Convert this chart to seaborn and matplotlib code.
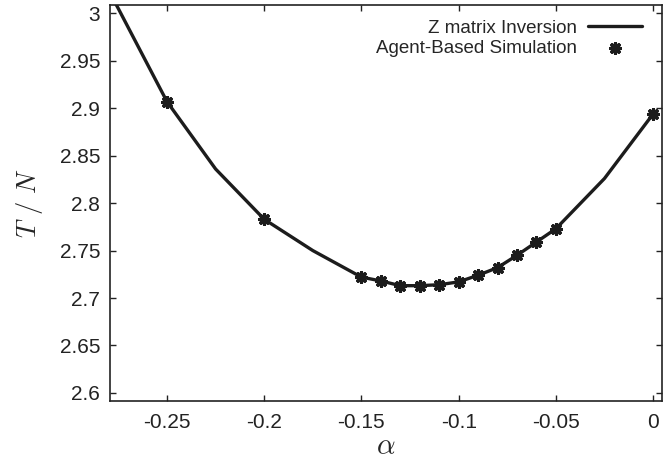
import matplotlib
matplotlib.use("Agg")
import matplotlib.pyplot as plt
import seaborn as sns
import pandas as pd

# Z matrix inversion (solid line)
alpha_line = [-0.30, -0.275, -0.25, -0.225, -0.20, -0.175, -0.15, -0.14, -0.13, -0.12,
              -0.11, -0.10, -0.09, -0.08, -0.07, -0.06, -0.05, -0.025, 0.0]
tn_line = [3.10, 3.005, 2.907, 2.836, 2.783, 2.750, 2.722, 2.718, 2.713, 2.713,
           2.714, 2.717, 2.724, 2.732, 2.745, 2.759, 2.773, 2.826, 2.894]

# Agent-based simulation (markers)
alpha_sim = [-0.25, -0.20, -0.15, -0.14, -0.13, -0.12, -0.11, -0.10, -0.09,
             -0.08, -0.07, -0.06, -0.05, 0.0]
tn_sim = [2.907, 2.783, 2.722, 2.718, 2.713, 2.713, 2.714, 2.717, 2.724,
          2.732, 2.745, 2.759, 2.773, 2.894]

xticks = [-0.25, -0.2, -0.15, -0.1, -0.05, 0]
xtick_labels = ["-0.25", "-0.2", "-0.15", "-0.1", "-0.05", "0"]
yticks = [2.6, 2.65, 2.7, 2.75, 2.8, 2.85, 2.9, 2.95, 3.0]
ytick_labels = ["2.6", "2.65", "2.7", "2.75", "2.8", "2.85", "2.9", "2.95", "3"]

sns.set_style("ticks")
plt.rcParams["font.family"] = ["Liberation Sans", "DejaVu Sans"]
plt.rcParams["mathtext.fontset"] = "cm"

df_line = pd.DataFrame({"alpha": alpha_line, "tn": tn_line})
df_sim = pd.DataFrame({"alpha": alpha_sim, "tn": tn_sim})

fig = plt.figure(figsize=(6.71, 4.70), dpi=100)
ax = fig.add_axes([0.164, 0.147, 0.8226, 0.8425])

color = "#1c1c1c"
sns.lineplot(data=df_line, x="alpha", y="tn", ax=ax, color=color, linewidth=2.4,
             label="Z matrix Inversion", sort=False)
sns.scatterplot(data=df_sim, x="alpha", y="tn", ax=ax, color=color,
                marker=(8, 2, 0), s=50, linewidth=2.4, edgecolor=color,
                label="Agent-Based Simulation", zorder=3)

ax.set_xlim(-0.2793, 0.0046)
ax.set_ylim(2.5915, 3.009)
ax.set_xticks(xticks)
ax.set_xticklabels(xtick_labels)
ax.set_yticks(yticks)
ax.set_yticklabels(ytick_labels)
ax.tick_params(direction="in", length=4, width=1, labelsize=15, top=True, right=True,
               colors="#222222", pad=7)
ax.tick_params(axis="x", pad=9)
for s in ax.spines.values():
    s.set_linewidth(1.2)
    s.set_color("#222222")

ax.set_xlabel(r"$\alpha$", fontsize=21, labelpad=0)
ax.set_ylabel(r"$T\ /\ N$", fontsize=19, labelpad=11)

leg = ax.legend(loc="upper right", frameon=False, markerfirst=False, fontsize=13.5,
                handlelength=2.9, handletextpad=0.6, labelspacing=0.15,
                borderaxespad=0.3, bbox_to_anchor=(0.988, 0.996))

fig.savefig("out.png", dpi=100)
